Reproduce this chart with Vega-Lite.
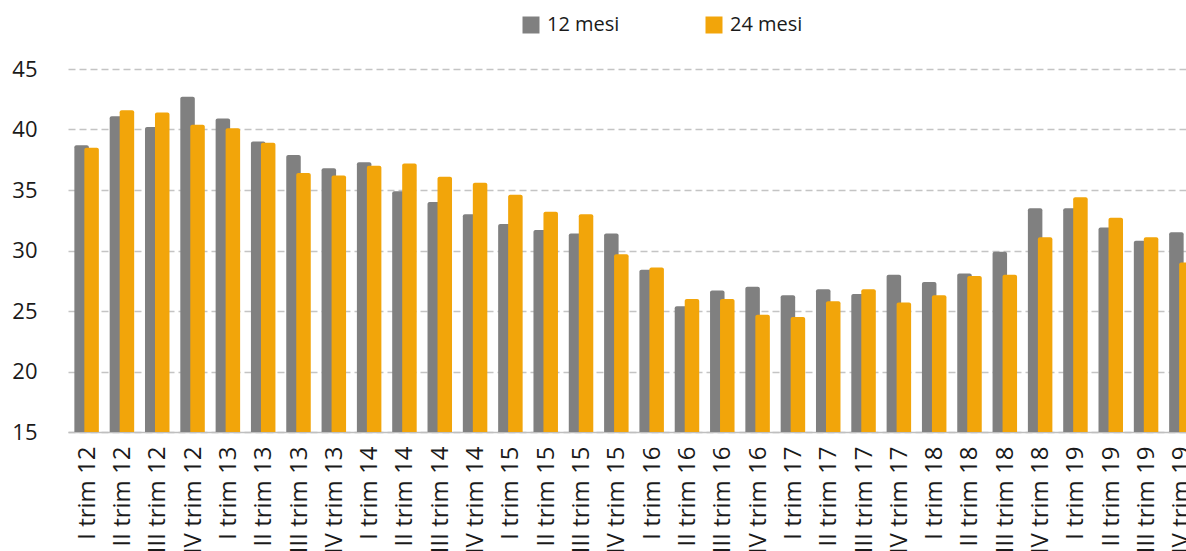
{
  "$schema": "https://vega.github.io/schema/vega-lite/v6.json",
  "width": 1118,
  "height": 363,
  "autosize": {"type": "none"},
  "padding": {"left": 68, "top": 69, "right": 0, "bottom": 119},
  "config": {"view": {"stroke": null}, "font": "Open Sans"},
  "data": {"values": [
    {"periodo": "I trim 12", "serie": "12 mesi", "valore": 38.7},
    {"periodo": "II trim 12", "serie": "12 mesi", "valore": 41.1},
    {"periodo": "III trim 12", "serie": "12 mesi", "valore": 40.2},
    {"periodo": "IV trim 12", "serie": "12 mesi", "valore": 42.7},
    {"periodo": "I trim 13", "serie": "12 mesi", "valore": 40.9},
    {"periodo": "II trim 13", "serie": "12 mesi", "valore": 39.0},
    {"periodo": "III trim 13", "serie": "12 mesi", "valore": 37.9},
    {"periodo": "IV trim 13", "serie": "12 mesi", "valore": 36.8},
    {"periodo": "I trim 14", "serie": "12 mesi", "valore": 37.3},
    {"periodo": "II trim 14", "serie": "12 mesi", "valore": 34.9},
    {"periodo": "III trim 14", "serie": "12 mesi", "valore": 34.0},
    {"periodo": "IV trim 14", "serie": "12 mesi", "valore": 33.0},
    {"periodo": "I trim 15", "serie": "12 mesi", "valore": 32.2},
    {"periodo": "II trim 15", "serie": "12 mesi", "valore": 31.7},
    {"periodo": "III trim 15", "serie": "12 mesi", "valore": 31.4},
    {"periodo": "IV trim 15", "serie": "12 mesi", "valore": 31.4},
    {"periodo": "I trim 16", "serie": "12 mesi", "valore": 28.4},
    {"periodo": "II trim 16", "serie": "12 mesi", "valore": 25.4},
    {"periodo": "III trim 16", "serie": "12 mesi", "valore": 26.7},
    {"periodo": "IV trim 16", "serie": "12 mesi", "valore": 27.0},
    {"periodo": "I trim 17", "serie": "12 mesi", "valore": 26.3},
    {"periodo": "II trim 17", "serie": "12 mesi", "valore": 26.8},
    {"periodo": "III trim 17", "serie": "12 mesi", "valore": 26.4},
    {"periodo": "IV trim 17", "serie": "12 mesi", "valore": 28.0},
    {"periodo": "I trim 18", "serie": "12 mesi", "valore": 27.4},
    {"periodo": "II trim 18", "serie": "12 mesi", "valore": 28.1},
    {"periodo": "III trim 18", "serie": "12 mesi", "valore": 29.9},
    {"periodo": "IV trim 18", "serie": "12 mesi", "valore": 33.5},
    {"periodo": "I trim 19", "serie": "12 mesi", "valore": 33.5},
    {"periodo": "II trim 19", "serie": "12 mesi", "valore": 31.9},
    {"periodo": "III trim 19", "serie": "12 mesi", "valore": 30.8},
    {"periodo": "IV trim 19", "serie": "12 mesi", "valore": 31.5},
    {"periodo": "I trim 12", "serie": "24 mesi", "valore": 38.5},
    {"periodo": "II trim 12", "serie": "24 mesi", "valore": 41.6},
    {"periodo": "III trim 12", "serie": "24 mesi", "valore": 41.4},
    {"periodo": "IV trim 12", "serie": "24 mesi", "valore": 40.4},
    {"periodo": "I trim 13", "serie": "24 mesi", "valore": 40.1},
    {"periodo": "II trim 13", "serie": "24 mesi", "valore": 38.9},
    {"periodo": "III trim 13", "serie": "24 mesi", "valore": 36.4},
    {"periodo": "IV trim 13", "serie": "24 mesi", "valore": 36.2},
    {"periodo": "I trim 14", "serie": "24 mesi", "valore": 37.0},
    {"periodo": "II trim 14", "serie": "24 mesi", "valore": 37.2},
    {"periodo": "III trim 14", "serie": "24 mesi", "valore": 36.1},
    {"periodo": "IV trim 14", "serie": "24 mesi", "valore": 35.6},
    {"periodo": "I trim 15", "serie": "24 mesi", "valore": 34.6},
    {"periodo": "II trim 15", "serie": "24 mesi", "valore": 33.2},
    {"periodo": "III trim 15", "serie": "24 mesi", "valore": 33.0},
    {"periodo": "IV trim 15", "serie": "24 mesi", "valore": 29.7},
    {"periodo": "I trim 16", "serie": "24 mesi", "valore": 28.6},
    {"periodo": "II trim 16", "serie": "24 mesi", "valore": 26.0},
    {"periodo": "III trim 16", "serie": "24 mesi", "valore": 26.0},
    {"periodo": "IV trim 16", "serie": "24 mesi", "valore": 24.7},
    {"periodo": "I trim 17", "serie": "24 mesi", "valore": 24.5},
    {"periodo": "II trim 17", "serie": "24 mesi", "valore": 25.8},
    {"periodo": "III trim 17", "serie": "24 mesi", "valore": 26.8},
    {"periodo": "IV trim 17", "serie": "24 mesi", "valore": 25.7},
    {"periodo": "I trim 18", "serie": "24 mesi", "valore": 26.3},
    {"periodo": "II trim 18", "serie": "24 mesi", "valore": 27.9},
    {"periodo": "III trim 18", "serie": "24 mesi", "valore": 28.0},
    {"periodo": "IV trim 18", "serie": "24 mesi", "valore": 31.1},
    {"periodo": "I trim 19", "serie": "24 mesi", "valore": 34.4},
    {"periodo": "II trim 19", "serie": "24 mesi", "valore": 32.7},
    {"periodo": "III trim 19", "serie": "24 mesi", "valore": 31.1},
    {"periodo": "IV trim 19", "serie": "24 mesi", "valore": 29.0}
  ]},
  "mark": {"type": "bar", "width": 14.5, "cornerRadiusTopLeft": 2, "cornerRadiusTopRight": 2},
  "encoding": {
    "x": {
      "field": "periodo", "type": "nominal", "sort": null,
      "scale": {"range": [0, 1132], "paddingInner": 0.434, "paddingOuter": 0.244},
      "axis": {
        "title": null, "labelAngle": -90, "labelFontSize": 24, "labelColor": "#1a1a1a",
        "ticks": false, "tickSize": 0, "labelPadding": 14, "domainColor": "#bfbfbf", "domainWidth": 1.5,
        "labelOverlap": false, "labelLimit": 0, "labelOffset": 1
      }
    },
    "xOffset": {"field": "serie", "type": "nominal", "sort": ["12 mesi", "24 mesi"], "scale": {"paddingInner": 0, "paddingOuter": 0}},
    "y": {
      "field": "valore", "type": "quantitative",
      "scale": {"domain": [15, 45], "zero": false, "nice": false},
      "axis": {
        "title": null, "values": [15, 20, 25, 30, 35, 40, 45], "labelFontSize": 22, "labelColor": "#1a1a1a",
        "ticks": false, "tickSize": 0, "labelPadding": 31, "domain": false,
        "grid": true, "gridColor": "#c4c4c4", "gridDash": [7, 4], "gridWidth": 1.3
      }
    },
    "y2": {"datum": 15},
    "color": {
      "field": "serie", "type": "nominal",
      "scale": {"domain": ["12 mesi", "24 mesi"], "range": ["#808080", "#F2A50A"]},
      "legend": {
        "orient": "none", "legendX": 453, "legendY": -54, "direction": "horizontal", "title": null,
        "symbolType": "square", "symbolSize": 289, "symbolStrokeWidth": 0, "symbolOpacity": 1,
        "labelFontSize": 20, "labelOffset": 6, "columnPadding": 84, "padding": 0, "labelColor": "#1a1a1a"
      }
    }
  }
}
